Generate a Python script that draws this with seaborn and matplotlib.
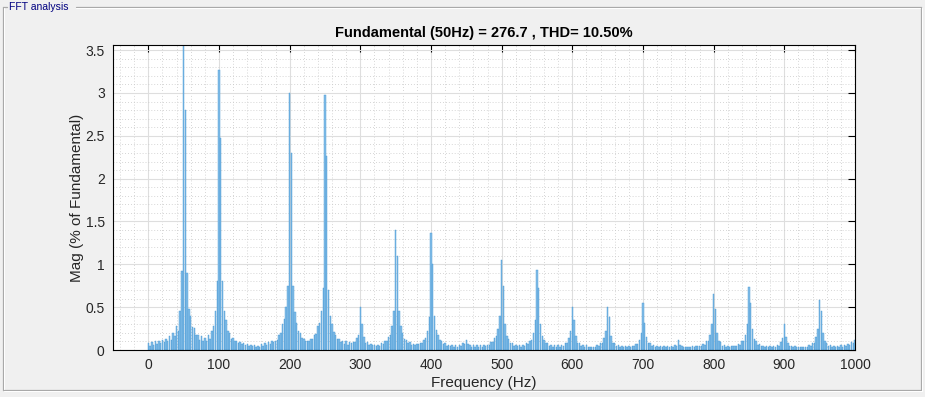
import numpy as np
import pandas as pd
import seaborn as sns
import matplotlib.pyplot as plt
from matplotlib.ticker import MultipleLocator
from matplotlib.lines import Line2D

sns.set_theme(style="white")
plt.rcParams['font.family'] = ['Liberation Sans', 'DejaVu Sans']

# FFT magnitudes (% of fundamental), 2.5 Hz bins, one list per 100 Hz band
band_000 = [0.08, 0.05, 0.09, 0.06, 0.10, 0.07, 0.11, 0.08, 0.12, 0.09,
            0.13, 0.10, 0.16, 0.12, 0.20, 0.16, 0.28, 0.22, 0.45, 0.92,
            3.60, 2.80, 0.90, 0.48, 0.40, 0.27, 0.26, 0.17, 0.18, 0.12,
            0.16, 0.11, 0.14, 0.10, 0.17, 0.13, 0.22, 0.28, 0.45, 0.80]
band_100 = [3.27, 2.48, 0.80, 0.46, 0.35, 0.22, 0.20, 0.13, 0.14, 0.10,
            0.10, 0.08, 0.09, 0.07, 0.08, 0.06, 0.07, 0.05, 0.06, 0.05,
            0.06, 0.04, 0.05, 0.04, 0.07, 0.05, 0.08, 0.06, 0.09, 0.07,
            0.10, 0.09, 0.11, 0.12, 0.18, 0.20, 0.30, 0.36, 0.50, 0.75]
band_200 = [3.00, 2.30, 0.75, 0.44, 0.32, 0.22, 0.20, 0.14, 0.13, 0.10,
            0.11, 0.10, 0.13, 0.13, 0.18, 0.19, 0.28, 0.32, 0.45, 0.72,
            2.98, 2.27, 0.70, 0.40, 0.30, 0.21, 0.18, 0.13, 0.13, 0.09,
            0.10, 0.07, 0.10, 0.06, 0.09, 0.08, 0.09, 0.09, 0.14, 0.18]
band_300 = [0.50, 0.30, 0.15, 0.08, 0.09, 0.06, 0.07, 0.06, 0.06, 0.05,
            0.06, 0.05, 0.08, 0.07, 0.10, 0.10, 0.15, 0.18, 0.28, 0.45,
            1.40, 1.10, 0.45, 0.28, 0.20, 0.13, 0.12, 0.08, 0.09, 0.06,
            0.07, 0.06, 0.07, 0.07, 0.08, 0.08, 0.12, 0.14, 0.22, 0.38]
band_400 = [1.37, 1.00, 0.40, 0.23, 0.18, 0.12, 0.11, 0.07, 0.08, 0.05,
            0.06, 0.05, 0.06, 0.04, 0.06, 0.04, 0.06, 0.05, 0.08, 0.07,
            0.12, 0.07, 0.06, 0.04, 0.06, 0.04, 0.06, 0.04, 0.06, 0.04,
            0.06, 0.05, 0.06, 0.06, 0.09, 0.09, 0.14, 0.16, 0.25, 0.40]
band_500 = [1.05, 0.75, 0.30, 0.16, 0.13, 0.08, 0.08, 0.05, 0.06, 0.05,
            0.06, 0.04, 0.06, 0.05, 0.08, 0.07, 0.11, 0.12, 0.20, 0.35,
            0.93, 0.72, 0.30, 0.16, 0.12, 0.08, 0.08, 0.05, 0.06, 0.04,
            0.06, 0.04, 0.06, 0.04, 0.06, 0.05, 0.08, 0.08, 0.14, 0.22]
band_600 = [0.50, 0.35, 0.16, 0.08, 0.08, 0.05, 0.06, 0.04, 0.06, 0.04,
            0.04, 0.04, 0.04, 0.04, 0.06, 0.05, 0.08, 0.08, 0.14, 0.22,
            0.50, 0.38, 0.16, 0.08, 0.08, 0.05, 0.06, 0.04, 0.05, 0.03,
            0.05, 0.03, 0.05, 0.03, 0.05, 0.05, 0.07, 0.07, 0.12, 0.20]
band_700 = [0.55, 0.32, 0.15, 0.08, 0.08, 0.05, 0.06, 0.04, 0.05, 0.03,
            0.05, 0.03, 0.05, 0.03, 0.05, 0.03, 0.05, 0.04, 0.06, 0.05,
            0.12, 0.06, 0.05, 0.04, 0.04, 0.04, 0.04, 0.04, 0.05, 0.03,
            0.05, 0.05, 0.05, 0.05, 0.07, 0.06, 0.10, 0.11, 0.18, 0.30]
band_800 = [0.65, 0.48, 0.20, 0.10, 0.09, 0.05, 0.06, 0.04, 0.05, 0.03,
            0.05, 0.05, 0.05, 0.05, 0.07, 0.06, 0.10, 0.11, 0.18, 0.30,
            0.73, 0.55, 0.25, 0.13, 0.10, 0.06, 0.07, 0.05, 0.05, 0.03,
            0.05, 0.03, 0.05, 0.03, 0.05, 0.04, 0.06, 0.05, 0.09, 0.14]
band_900 = [0.30, 0.15, 0.08, 0.05, 0.05, 0.03, 0.05, 0.03, 0.04, 0.04,
            0.04, 0.04, 0.04, 0.04, 0.06, 0.05, 0.08, 0.08, 0.15, 0.25,
            0.58, 0.45, 0.20, 0.10, 0.08, 0.05, 0.06, 0.04, 0.05, 0.03,
            0.05, 0.04, 0.06, 0.04, 0.06, 0.05, 0.07, 0.06, 0.09, 0.08]
band_end = [0.12]

bin_width_hz = 2.5
mag = np.array(band_000 + band_100 + band_200 + band_300 + band_400 +
               band_500 + band_600 + band_700 + band_800 + band_900 + band_end)
freq = np.arange(len(mag)) * bin_width_hz
df = pd.DataFrame({"Frequency": freq, "Mag": mag})

title_text = "Fundamental (50Hz) = 276.7 , THD= 10.50%"

W, H = 925, 397
fig = plt.figure(figsize=(W / 100, H / 100), dpi=100, facecolor='#f0f0f0')


def fx(px):
    return px / W


def fy(py):
    return 1 - py / H


# panel border (uipanel look)
border_col = '#a9a9a9'
for (x0, y0, x1, y1) in [(76, 7, 921, 7), (3, 7, 7, 7), (3, 7, 3, 390),
                         (3, 390, 921, 390), (921, 7, 921, 390)]:
    fig.add_artist(Line2D([fx(x0), fx(x1)], [fy(y0), fy(y1)], color=border_col, lw=0.9))
for (x0, y0, x1, y1) in [(76, 8, 920, 8), (4, 8, 4, 389), (4, 391, 922, 391), (922, 8, 922, 391)]:
    fig.add_artist(Line2D([fx(x0), fx(x1)], [fy(y0), fy(y1)], color='#ffffff', lw=0.7))
fig.text(fx(9), fy(7), "FFT analysis", color='#000080', fontsize=7.5,
         ha='left', va='center')

ax = fig.add_axes([113 / W, 1 - 350 / H, (855 - 113) / W, (350 - 45) / H])
ax.set_facecolor('white')

sns.barplot(data=df, x="Frequency", y="Mag", native_scale=True, width=0.8,
            color='#84bee8', edgecolor='#4496d3', linewidth=0.3,
            saturation=1, errorbar=None, ax=ax)

ax.set_xlim(-50, 1000)
ax.set_ylim(0, 3.56)
ax.xaxis.set_major_locator(MultipleLocator(100))
ax.xaxis.set_minor_locator(MultipleLocator(20))
ax.yaxis.set_major_locator(MultipleLocator(0.5))
ax.yaxis.set_minor_locator(MultipleLocator(0.1))
ax.set_yticks(np.arange(0, 3.51, 0.5))
ax.set_yticklabels(['0', '0.5', '1', '1.5', '2', '2.5', '3', '3.5'])
ax.set_xticks(np.arange(0, 1001, 100))
ax.set_xticklabels([str(v) for v in range(0, 1001, 100)])

ax.set_axisbelow(True)
ax.grid(which='major', color='#dedede', lw=0.8, ls='-')
ax.grid(which='minor', color='#c8c8c8', lw=0.6, ls=(0, (1, 2.5)))
ax.tick_params(which='major', direction='in', length=5, width=0.8, color='black',
               top=True, right=True, labelsize=10, labelcolor='#262626', pad=6)
ax.tick_params(which='minor', length=0)
for s in ax.spines.values():
    s.set_color('black')
    s.set_linewidth(0.8)
    s.set_visible(True)

ax.set_xlabel("Frequency (Hz)", fontsize=11, color='#262626', labelpad=3)
ax.set_ylabel("Mag (% of Fundamental)", fontsize=11, color='#262626', labelpad=1)
ax.set_title(title_text, fontsize=10.5, fontweight='bold', color='black', pad=6)

fig.savefig("out.png", dpi=100, facecolor=fig.get_facecolor())
